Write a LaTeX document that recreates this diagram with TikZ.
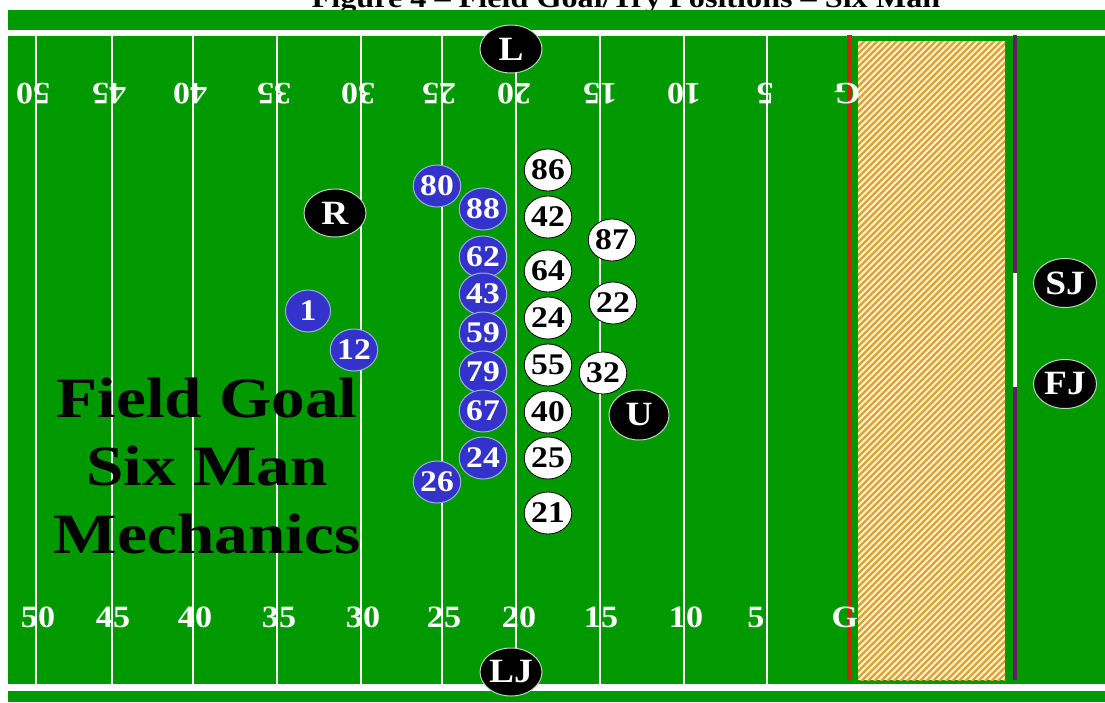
\documentclass[tikz,border=0pt]{standalone}
\usepackage{fontspec}
\usepackage{graphicx}
\setmainfont{Liberation Serif}
\usetikzlibrary{shapes.geometric}
\definecolor{field}{RGB}{0,153,0}
\definecolor{pblue}{RGB}{51,51,204}
\definecolor{pblueedge}{RGB}{160,175,225}
\definecolor{goalred}{RGB}{200,40,10}
\definecolor{endpurple}{RGB}{100,30,100}
\definecolor{ezback}{RGB}{255,244,195}
\definecolor{ezstripe}{RGB}{222,160,60}
\definecolor{offedge}{RGB}{190,215,190}
\newcommand{\stx}[2]{\scalebox{#1}[1]{#2}}
\tikzset{
  blueplayer/.style={ellipse, minimum width=45, minimum height=42, inner sep=0pt,
    fill=pblue, draw=pblueedge, line width=1pt, text=white,
    font=\bfseries\fontsize{30}{30}\selectfont},
  whiteplayer/.style={ellipse, minimum width=45, minimum height=42, inner sep=0pt,
    fill=white, draw=black, line width=0.8pt, text=black,
    font=\bfseries\fontsize{30}{30}\selectfont},
  official/.style={ellipse, minimum width=62, minimum height=48, inner sep=0pt,
    fill=black, draw=offedge, line width=1pt, text=white,
    font=\bfseries\fontsize{34}{34}\selectfont},
  yardnum/.style={text=white, font=\bfseries\fontsize{31}{31}\selectfont,
    inner sep=0pt, anchor=base},
  yardline/.style={white, line width=1.2pt},
  bigtext/.style={text=black, font=\bfseries\fontsize{57}{57}\selectfont,
    inner sep=0pt, anchor=base},
}
\begin{document}
\begin{tikzpicture}[x=1pt,y=-1pt]
\useasboundingbox (0,0) rectangle (1105,702);
\fill[white] (0,0) rectangle (1105,702);
% title (top cut off, as in the reference)
\node[anchor=base, inner sep=0pt, font=\bfseries\fontsize{28}{28}\selectfont]
  (title) at (626,7) {\stx{1.15}{Figure 4 -- Field Goal/Try Positions -- Six Man}};
% field
\fill[field] (7.5,9.5) rectangle (1105,702);
\fill[white] (7.5,30) rectangle (1105,36);
\fill[white] (7.5,684) rectangle (1105,691);
% yard lines
\foreach \x in {36,112,193,277,361,442,516,600,684,767}
  \draw[yardline] (\x,36) -- (\x,684);
% end zone
\fill[ezback] (858,41) rectangle (1005,680);
\begin{scope}
  \clip (858,41) rectangle (1005,680);
  \foreach \t in {0,6.5,...,800}
    \draw[ezstripe, line width=2.4pt] (215+\t,684) -- ++(650,-650);
\end{scope}
% goal line and end line
\fill[goalred] (847,35) rectangle (852,680);
\fill[endpurple] (1013,35) rectangle (1017,680);
\fill[white] (1013,273) rectangle (1017,387);
% top yard numbers (upside down)
\node[yardnum, rotate=180] (t50) at (33,83) {\stx{1.1}{50}};
\node[yardnum, rotate=180] (t45) at (109,83) {\stx{1.1}{45}};
\node[yardnum, rotate=180] (t40) at (190,83) {\stx{1.1}{40}};
\node[yardnum, rotate=180] (t35) at (274,83) {\stx{1.1}{35}};
\node[yardnum, rotate=180] (t30) at (358,83) {\stx{1.1}{30}};
\node[yardnum, rotate=180] (t25) at (439,83) {\stx{1.1}{25}};
\node[yardnum, rotate=180] (t20) at (514,83) {\stx{1.1}{20}};
\node[yardnum, rotate=180] (t15) at (600,83) {\stx{1.1}{15}};
\node[yardnum, rotate=180] (t10) at (684,83) {\stx{1.1}{10}};
\node[yardnum, rotate=180] (t5) at (765,83) {\stx{1.1}{5}};
\node[yardnum, rotate=180] (tG) at (847,83) {\stx{1.1}{G}};
% bottom yard numbers
\node[yardnum] (b50) at (38,627) {\stx{1.1}{50}};
\node[yardnum] (b45) at (113,627) {\stx{1.1}{45}};
\node[yardnum] (b40) at (195,627) {\stx{1.1}{40}};
\node[yardnum] (b35) at (279,627) {\stx{1.1}{35}};
\node[yardnum] (b30) at (363,627) {\stx{1.1}{30}};
\node[yardnum] (b25) at (444,627) {\stx{1.1}{25}};
\node[yardnum] (b20) at (519,627) {\stx{1.1}{20}};
\node[yardnum] (b15) at (601,627) {\stx{1.1}{15}};
\node[yardnum] (b10) at (686,627) {\stx{1.1}{10}};
\node[yardnum] (b5) at (756,627) {\stx{1.1}{5}};
\node[yardnum] (bG) at (845,627) {\stx{1.1}{G}};
% big text
\node[bigtext] (fg1) at (207,417) {\stx{1.18}{Field Goal}};
\node[bigtext] (fg2) at (207,485) {\stx{1.18}{Six Man}};
\node[bigtext] (fg3) at (207,553) {\stx{1.18}{Mechanics}};
% kicking team (blue)
\node[blueplayer] (b80) at (437,186) {\stx{1.12}{80}};
\node[blueplayer] (b88) at (483,209) {\stx{1.12}{88}};
\node[blueplayer] (b62) at (483,257) {\stx{1.12}{62}};
\node[blueplayer] (b43) at (483,294) {\stx{1.12}{43}};
\node[blueplayer] (b59) at (483,333) {\stx{1.12}{59}};
\node[blueplayer] (b79) at (483,372) {\stx{1.12}{79}};
\node[blueplayer] (b67) at (483,411) {\stx{1.12}{67}};
\node[blueplayer] (b24) at (483,458) {\stx{1.12}{24}};
\node[blueplayer] (b26) at (437,482) {\stx{1.12}{26}};
\node[blueplayer] (b1) at (308,311) {\stx{1.12}{1}};
\node[blueplayer] (b12) at (354,350) {\stx{1.12}{12}};
% defence (white)
\node[whiteplayer] (w86) at (548,170) {\stx{1.12}{86}};
\node[whiteplayer] (w42) at (548,217) {\stx{1.12}{42}};
\node[whiteplayer] (w87) at (612,240) {\stx{1.12}{87}};
\node[whiteplayer] (w64) at (548,271) {\stx{1.12}{64}};
\node[whiteplayer] (w22) at (613,303) {\stx{1.12}{22}};
\node[whiteplayer] (w24) at (548,318) {\stx{1.12}{24}};
\node[whiteplayer] (w55) at (548,365) {\stx{1.12}{55}};
\node[whiteplayer] (w32) at (603,373) {\stx{1.12}{32}};
\node[whiteplayer] (w40) at (548,412) {\stx{1.12}{40}};
\node[whiteplayer] (w25) at (548,458) {\stx{1.12}{25}};
\node[whiteplayer] (w21) at (548,513) {\stx{1.12}{21}};
% officials
\node[official] (L) at (511,49) {\stx{1.1}{L}};
\node[official] (LJ) at (511,672) {\stx{1.1}{LJ}};
\node[official] (R) at (335,213) {\stx{1.1}{R}};
\node[official, minimum width=60, minimum height=50] (U) at (639,415) {\stx{1.1}{U}};
\node[official, minimum width=63, minimum height=49] (SJ) at (1065,283) {\stx{1.1}{SJ}};
\node[official, minimum width=63, minimum height=49] (FJ) at (1065,384) {\stx{1.1}{FJ}};
\end{tikzpicture}
\end{document}
